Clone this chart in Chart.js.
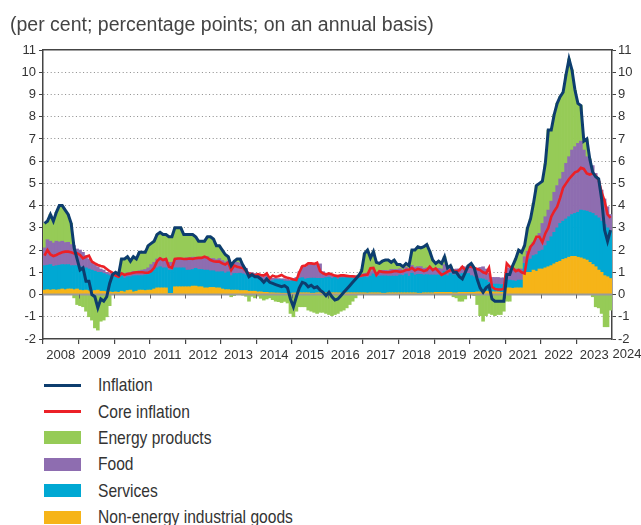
<!DOCTYPE html>
<html>
<head>
<meta charset="utf-8">
<script src="https://cdn.jsdelivr.net/npm/chart.js@4.4.0/dist/chart.umd.min.js"></script>
<style>
  html, body { margin: 0; padding: 0; background: #fff; }
  #wrap { position: relative; width: 641px; height: 525px; overflow: hidden; }
  #chart { position: absolute; left: 0; top: 0; }
  #legend { position: absolute; left: 44px; top: 372px; color: #333;
            font-family: "Liberation Sans", Arial, sans-serif; font-size: 19px; }
  .row { display: flex; align-items: center; height: 26.4px; white-space: nowrap; }
  .sw { width: 37px; margin-right: 17px; flex: none; }
  .row span { display: inline-block; transform: scaleX(0.82); transform-origin: left center; }
</style>
</head>
<body>
<div id="wrap">
  <canvas id="chart" width="641" height="370"></canvas>
  <div id="legend"></div>
</div>
<script>
const years = [2008, 2009, 2010, 2011, 2012, 2013, 2014, 2015, 2016, 2017, 2018, 2019, 2020, 2021, 2022, 2023];
const endLabel = "2024";

// headline inflation (line)
const inflation = [
  3.2, 3.3, 3.6, 3.3, 3.7, 4.0, 4.0, 3.8, 3.6, 3.2, 2.1, 1.6,
  1.1, 1.2, 0.6, 0.6, 0.0, -0.1, -0.6, -0.2, -0.3, -0.1, 0.5, 0.9,
  1.0, 0.9, 1.6, 1.6, 1.7, 1.5, 1.7, 1.6, 1.9, 1.9, 1.9, 2.2,
  2.3, 2.4, 2.7, 2.8, 2.7, 2.7, 2.6, 2.6, 3.0, 3.0, 3.0, 2.7,
  2.7, 2.7, 2.7, 2.6, 2.4, 2.4, 2.4, 2.6, 2.6, 2.5, 2.2, 2.2,
  2.0, 1.8, 1.7, 1.3, 1.5, 1.6, 1.6, 1.3, 1.1, 0.8, 0.9, 0.8,
  0.8, 0.7, 0.55, 0.7, 0.55, 0.5, 0.45, 0.4, 0.35, 0.4, 0.3, -0.2,
  -0.55, -0.1, 0.3, 0.55, 0.5, 0.35, 0.42, 0.3, 0.35, 0.2, 0.1, -0.05,
  0.1, -0.1, -0.25, -0.2, -0.05, 0.1, 0.25, 0.4, 0.55, 0.7, 0.85, 1.05,
  1.85, 2.0, 1.65, 1.93, 1.45, 1.4, 1.5, 1.55, 1.55, 1.45, 1.55, 1.35,
  1.35, 1.25, 1.4, 1.3, 2.0, 2.0, 2.15, 2.1, 2.15, 2.25, 1.95, 1.55,
  1.4, 1.5, 1.4, 1.7, 1.2, 1.3, 1.0, 1.0, 0.8, 0.7, 1.0, 1.3,
  1.4, 1.2, 0.7, 0.3, 0.1, 0.3, 0.4, -0.2, -0.3, -0.3, -0.3, -0.3,
  0.9, 0.9, 1.3, 1.6, 2.0, 1.9, 2.2, 3.0, 3.4, 4.1, 4.9, 5.0,
  5.1, 5.9, 7.4, 7.4, 8.1, 8.6, 8.9, 9.1, 9.9, 10.6, 10.1, 9.2,
  8.6, 8.5, 6.9, 7.0, 6.1, 5.5, 5.3, 5.2, 4.3, 2.9, 2.4, 2.9
];

// core inflation (line)
const coreInflation = [
  1.75, 2.0, 1.8, 1.73, 1.78, 1.85, 1.9, 1.93, 1.93, 1.9, 1.85, 1.85,
  1.78, 1.63, 1.7, 1.75, 1.48, 1.4, 1.33, 1.28, 1.25, 1.15, 1.05, 0.98,
  0.85, 0.8, 0.95, 0.88, 0.92, 0.95, 0.98, 1.0, 1.0, 1.0, 0.98, 0.98,
  1.05, 1.2, 1.5, 1.63, 1.55, 1.6, 1.25, 1.2, 1.6, 1.62, 1.62, 1.6,
  1.6, 1.62, 1.6, 1.63, 1.65, 1.65, 1.7, 1.65, 1.55, 1.5, 1.48, 1.48,
  1.4, 1.35, 1.45, 1.1, 1.3, 1.25, 1.22, 1.2, 1.05, 0.95, 0.92, 0.85,
  0.92, 0.88, 0.85, 0.95, 0.73, 0.85, 0.8, 0.82, 0.88, 0.8, 0.75, 0.72,
  0.68, 0.65, 1.0, 1.28, 1.3, 1.4, 1.4, 1.38, 1.43, 1.05, 0.95, 0.9,
  0.95, 0.9, 0.85, 0.83, 0.86, 0.86, 0.84, 0.82, 0.82, 0.8, 0.82, 0.86,
  0.88, 0.9, 1.18, 1.2, 0.88, 1.05, 1.02, 1.0, 1.0, 1.02, 1.05, 1.05,
  1.02, 1.05, 1.1, 1.12, 1.2, 1.08, 1.15, 1.12, 1.05, 1.1, 1.25, 1.1,
  1.18, 1.03, 0.88, 0.95, 1.03, 1.1, 1.08, 1.03, 1.1, 1.25, 1.1, 1.25,
  1.25, 1.2, 1.15, 1.1, 1.0, 0.95, 1.2, 0.35, 0.25, 0.23, 0.23, 0.25,
  1.4, 1.25, 1.2, 1.05, 1.1, 1.0, 0.95, 1.75, 2.15, 2.3, 2.6, 2.6,
  2.35, 2.75, 3.0, 3.5, 3.75, 3.95, 4.35, 4.8, 5.0, 5.2, 5.35, 5.5,
  5.55, 5.7, 5.65, 5.45, 5.4, 5.45, 5.35, 5.15, 4.6, 4.2, 3.6, 3.45
];

// contributions, percentage points
const energy = [
  1.1, 0.85, 1.2, 1.0, 1.3, 1.6, 1.6, 1.45, 1.25, 0.95, -0.15, -0.45,
  -0.5, -0.55, -0.75, -1.0, -1.15, -1.5, -1.6, -1.2, -1.15, -1.0, -0.5, 0.0,
  0.1, 0.03, 0.63, 0.68, 0.72, 0.53, 0.66, 0.57, 0.83, 0.8, 0.77, 1.0,
  0.95, 0.95, 1.1, 1.15, 1.1, 1.1, 1.15, 1.15, 1.4, 1.4, 1.4, 1.1,
  1.05, 1.05, 1.02, 0.92, 0.75, 0.77, 0.75, 0.9, 0.98, 0.88, 0.63, 0.58,
  0.47, 0.33, 0.18, -0.1, -0.05, 0.15, 0.19, -0.03, -0.08, -0.3, -0.08, -0.15,
  -0.07, -0.17, -0.25, -0.2, -0.15, -0.23, -0.3, -0.32, -0.36, -0.31, -0.38, -0.85,
  -1.0, -0.75, -0.55, -0.55, -0.55, -0.7, -0.75, -0.8, -0.85, -0.8, -0.8, -0.85,
  -0.9, -0.95, -0.9, -0.85, -0.75, -0.7, -0.6, -0.45, -0.3, -0.15, 0.05, 0.25,
  0.9, 1.03, 0.62, 0.8, 0.45, 0.37, 0.41, 0.46, 0.47, 0.32, 0.42, 0.22,
  0.19, 0.14, 0.17, 0.17, 0.69, 0.77, 0.89, 0.84, 0.97, 1.05, 0.77, 0.37,
  0.22, 0.32, 0.25, 0.35, 0.05, 0.05, -0.1, -0.15, -0.3, -0.3, -0.2, 0.02,
  0.1, -0.05, -0.45, -0.95, -1.2, -0.95, -0.85, -0.9, -0.95, -0.9, -0.9, -0.75,
  -0.3, -0.3, 0.12, 0.45, 0.85, 0.75, 0.5, 1.05, 1.25, 1.75, 2.4, 2.25,
  1.9, 2.4, 3.6, 3.2, 3.5, 3.7, 3.7, 3.6, 4.0, 4.4, 3.6, 2.55,
  1.8, 1.6, 0.4, 0.8, 0.05, -0.1, -0.55, -0.6, -0.85, -1.45, -1.45, -0.7
];

const food = [
  0.8, 1.15, 1.05, 1.05, 1.1, 1.05, 1.05, 1.0, 1.0, 0.95, 0.9, 0.75,
  0.75, 0.7, 0.55, 0.45, 0.35, 0.3, 0.25, 0.15, 0.15, 0.1, 0.1, 0.1,
  0.1, 0.12, 0.12, 0.18, 0.18, 0.17, 0.2, 0.18, 0.22, 0.25, 0.25, 0.3,
  0.3, 0.35, 0.4, 0.4, 0.4, 0.4, 0.35, 0.35, 0.4, 0.4, 0.4, 0.4,
  0.55, 0.55, 0.55, 0.5, 0.52, 0.5, 0.55, 0.6, 0.55, 0.55, 0.55, 0.6,
  0.5, 0.5, 0.5, 0.45, 0.5, 0.5, 0.45, 0.4, 0.3, 0.2, 0.18, 0.15,
  0.15, 0.15, 0.2, 0.15, 0.12, 0.1, 0.08, 0.05, 0.05, 0.1, 0.08, 0.05,
  0.05, 0.08, 0.3, 0.5, 0.55, 0.6, 0.65, 0.65, 0.62, 0.65, 0.3, 0.2,
  0.1, 0.12, 0.08, 0.12, 0.1, 0.1, 0.1, 0.1, 0.1, 0.1, 0.1, 0.12,
  0.15, 0.2, 0.2, 0.2, 0.2, 0.2, 0.25, 0.25, 0.25, 0.3, 0.3, 0.3,
  0.28, 0.25, 0.3, 0.3, 0.35, 0.35, 0.35, 0.35, 0.3, 0.3, 0.3, 0.3,
  0.3, 0.3, 0.3, 0.3, 0.3, 0.3, 0.25, 0.25, 0.25, 0.3, 0.3, 0.35,
  0.4, 0.4, 0.45, 0.5, 0.55, 0.5, 0.4, 0.3, 0.3, 0.3, 0.3, 0.3,
  0.55, 0.55, 0.55, 0.55, 0.5, 0.5, 0.3, 0.4, 0.55, 0.6, 0.7, 0.8,
  1.2, 1.3, 1.4, 1.6, 1.8, 1.9, 2.0, 2.2, 2.5, 2.7, 2.9, 3.0,
  3.1, 3.1, 2.72, 2.45, 2.35, 2.15, 1.9, 1.65, 1.4, 1.15, 0.95, 0.75
];

const services = [
  1.1, 1.1, 1.15, 1.05, 1.1, 1.1, 1.1, 1.12, 1.1, 1.05, 1.08, 1.05,
  1.05, 1.02, 1.0, 0.98, 0.95, 0.87, 0.8, 0.85, 0.8, 0.78, 0.73, 0.7,
  0.68, 0.65, 0.7, 0.62, 0.62, 0.6, 0.72, 0.7, 0.65, 0.65, 0.7, 0.7,
  0.85, 0.85, 0.9, 0.95, 0.9, 0.9, 1.05, 1.05, 0.85, 0.85, 0.85, 0.85,
  0.75, 0.75, 0.75, 0.8, 0.78, 0.78, 0.8, 0.8, 0.75, 0.75, 0.72, 0.72,
  0.78, 0.75, 0.8, 0.65, 0.75, 0.75, 0.78, 0.75, 0.7, 0.65, 0.65, 0.65,
  0.6, 0.6, 0.5, 0.65, 0.5, 0.55, 0.6, 0.6, 0.6, 0.55, 0.55, 0.55,
  0.6, 0.62, 0.65, 0.68, 0.62, 0.65, 0.68, 0.68, 0.65, 0.65, 0.65, 0.68,
  0.7, 0.65, 0.7, 0.62, 0.68, 0.68, 0.68, 0.68, 0.66, 0.66, 0.66, 0.68,
  0.72, 0.7, 0.75, 0.85, 0.72, 0.75, 0.78, 0.78, 0.75, 0.75, 0.75, 0.75,
  0.8, 0.78, 0.85, 0.75, 0.88, 0.8, 0.85, 0.85, 0.8, 0.82, 0.8, 0.8,
  0.78, 0.78, 0.75, 0.95, 0.75, 0.85, 0.8, 0.82, 0.8, 0.85, 0.85, 0.85,
  0.75, 0.7, 0.6, 0.6, 0.55, 0.5, 0.4, 0.35, 0.35, 0.35, 0.35, 0.35,
  0.35, 0.35, 0.35, 0.3, 0.35, 0.35, 0.45, 0.55, 0.6, 0.65, 0.75, 0.8,
  0.85, 1.0, 1.15, 1.3, 1.42, 1.55, 1.7, 1.72, 1.78, 1.82, 1.88, 1.93,
  2.02, 2.15, 2.18, 2.2, 2.25, 2.3, 2.3, 2.35, 2.3, 2.3, 2.2, 2.13
];

const industrialGoods = [
  0.2, 0.22, 0.2, 0.22, 0.2, 0.22, 0.25, 0.22, 0.25, 0.25, 0.22, 0.25,
  0.2, 0.18, 0.2, 0.17, 0.15, 0.18, 0.2, 0.15, 0.15, 0.12, 0.12, 0.1,
  0.12, 0.1, 0.15, 0.12, 0.18, 0.2, 0.12, 0.15, 0.2, 0.2, 0.18, 0.2,
  0.2, 0.25, 0.3, 0.3, 0.3, 0.3, 0.05, 0.05, 0.35, 0.35, 0.35, 0.35,
  0.35, 0.35, 0.38, 0.38, 0.35, 0.35, 0.3, 0.3, 0.32, 0.32, 0.3, 0.3,
  0.25, 0.22, 0.22, 0.2, 0.2, 0.2, 0.18, 0.18, 0.18, 0.15, 0.15, 0.15,
  0.12, 0.12, 0.1, 0.1, 0.08, 0.08, 0.07, 0.07, 0.06, 0.06, 0.05, 0.05,
  0.07, 0.07, 0.08, 0.08, 0.08, 0.08, 0.06, 0.06, 0.08, 0.08, 0.08, 0.08,
  0.08, 0.08, 0.08, 0.08, 0.07, 0.07, 0.08, 0.08, 0.08, 0.08, 0.08, 0.08,
  0.08, 0.07, 0.08, 0.08, 0.08, 0.08, 0.06, 0.06, 0.08, 0.08, 0.08, 0.08,
  0.08, 0.08, 0.08, 0.08, 0.08, 0.08, 0.06, 0.06, 0.08, 0.08, 0.08, 0.08,
  0.1, 0.1, 0.1, 0.1, 0.1, 0.1, 0.08, 0.08, 0.1, 0.1, 0.1, 0.1,
  0.1, 0.1, 0.12, 0.12, 0.15, 0.15, 0.15, 0.12, 0.12, 0.12, 0.1, 0.1,
  0.3, 0.3, 0.28, 0.3, 0.3, 0.3, 0.95, 1.0, 1.0, 1.1, 1.05, 1.15,
  1.15, 1.2, 1.25, 1.3, 1.38, 1.45, 1.5, 1.58, 1.62, 1.68, 1.72, 1.72,
  1.68, 1.65, 1.6, 1.55, 1.45, 1.35, 1.25, 1.1, 1.0, 0.85, 0.8, 0.72
];

const labels = [];
years.forEach(y => {
  for (let m = 1; m <= 12; m++) labels.push(y + "-" + String(m).padStart(2, "0"));
});

const FONT = '"Liberation Sans", Arial, sans-serif';
const AXIS = "#444";

// zero line drawn over the bars but under the two lines
const zeroLine = {
  id: "zeroLine",
  afterDatasetDraw(chart, args) {
    if (args.index !== 5) return;
    const { ctx, chartArea } = chart;
    const xs = chart.scales.x;
    const y0 = chart.scales.y.getPixelForValue(0);
    const step = (xs.right - xs.left) / labels.length;
    ctx.save();
    ctx.strokeStyle = "#9a9a9a";
    ctx.lineWidth = 2;
    ctx.beginPath();
    ctx.moveTo(chartArea.left, y0);
    ctx.lineTo(chartArea.right, y0);
    ctx.stroke();
    ctx.strokeStyle = "#666";
    ctx.lineWidth = 1;
    for (let i = 12; i < labels.length; i += 12) {
      const x = Math.round(xs.getPixelForValue(i) - step / 2) + 0.5;
      ctx.beginPath();
      ctx.moveTo(x, y0);
      ctx.lineTo(x, y0 + 4);
      ctx.stroke();
    }
    ctx.restore();
  },
  afterDraw(chart) {
    const { ctx } = chart;
    const xs = chart.scales.x;
    const yearW = (xs.right - xs.left) / years.length;
    ctx.save();
    ctx.font = "13px " + FONT;
    ctx.fillStyle = "#333";
    ctx.textAlign = "center";
    ctx.textBaseline = "top";
    ctx.fillText(endLabel, Math.min(xs.right + yearW / 2, chart.width - 14), xs.top + 9);
    ctx.restore();
  }
};

const chart = new Chart(document.getElementById("chart"), {
  type: "bar",
  data: {
    labels,
    datasets: [
      { type: "line", label: "Inflation", data: inflation, borderColor: "#0d3d6e", backgroundColor: "#0d3d6e",
        borderWidth: 3, pointRadius: 0, tension: 0, stack: "infl", order: 0 },
      { type: "line", label: "Core inflation", data: coreInflation, borderColor: "#ec2027", backgroundColor: "#ec2027",
        borderWidth: 2.6, pointRadius: 0, tension: 0, stack: "core", order: 1 },
      { label: "Energy products", data: energy, backgroundColor: "#96cb57", stack: "contrib", order: 5 },
      { label: "Food", data: food, backgroundColor: "#8e6db0", stack: "contrib", order: 4 },
      { label: "Services", data: services, backgroundColor: "#00a8d3", stack: "contrib", order: 3 },
      { label: "Non-energy industrial goods", data: industrialGoods, backgroundColor: "#f6b418", stack: "contrib", order: 2 }
    ]
  },
  options: {
    responsive: false,
    animation: false,
    devicePixelRatio: 1,
    layout: { padding: { left: 10, right: 0, top: 0, bottom: 0 } },
    datasets: { bar: { barPercentage: 1, categoryPercentage: 1, borderWidth: 0 } },
    plugins: {
      legend: { display: false },
      tooltip: { enabled: false },
      title: {
        display: true,
        text: "(per cent; percentage points; on an annual basis)",
        align: "start",
        color: "#444",
        font: { family: FONT, size: 19.5, weight: "normal", lineHeight: 1.2 },
        padding: { top: 14, bottom: 12.6 }
      }
    },
    scales: {
      x: {
        stacked: true,
        offset: true,
        ticks: {
          autoSkip: false, maxRotation: 0, minRotation: 0, padding: 4, labelOffset: -1.5,
          color: "#333", font: { family: FONT, size: 13 },
          callback: (v, i) => (i % 12 === 6 ? labels[i].slice(0, 4) : "")
        },
        grid: {
          offset: true, drawOnChartArea: false, tickLength: 5, lineWidth: 1.2,
          color: ctx => (ctx.index % 12 === 0 ? AXIS : "rgba(0,0,0,0)")
        },
        border: { color: AXIS, width: 1.5 },
        afterFit: s => { s.height = 31; }
      },
      xTop: {
        type: "category",
        position: "top",
        labels,
        ticks: { display: false },
        grid: { display: false, drawTicks: false },
        border: { color: AXIS, width: 1.5 },
        afterFit: s => { s.height = 0; }
      },
      y: {
        position: "left",
        stacked: true,
        min: -2, max: 11,
        ticks: { stepSize: 1, padding: 3, color: "#333", font: { family: FONT, size: 13 } },
        grid: {
          lineWidth: 1, tickLength: 4, tickColor: AXIS,
          color: ctx => {
            const v = ctx.tick.value;
            return (v === -1 || (v >= 1 && v <= 10)) ? "#8a8a8a" : "rgba(0,0,0,0)";
          }
        },
        border: { color: AXIS, width: 1.5, dash: [1, 2.6] },
        afterFit: s => { s.width = 33; }
      },
      yRight: {
        position: "right",
        min: -2, max: 11,
        ticks: { stepSize: 1, padding: 2, color: "#333", font: { family: FONT, size: 13 } },
        grid: { drawOnChartArea: false, tickLength: 4, color: AXIS },
        border: { color: AXIS, width: 1.5 },
        afterFit: s => { s.width = 29; }
      }
    }
  },
  plugins: [zeroLine]
});

// legend, built from the datasets
const legend = document.getElementById("legend");
chart.data.datasets.forEach(ds => {
  const row = document.createElement("div");
  row.className = "row";
  const sw = document.createElement("div");
  sw.className = "sw";
  sw.style.background = ds.type === "line" ? ds.borderColor : ds.backgroundColor;
  sw.style.height = ds.type === "line" ? "3px" : "13px";
  const txt = document.createElement("span");
  txt.textContent = ds.label;
  row.appendChild(sw);
  row.appendChild(txt);
  legend.appendChild(row);
});
</script>
</body>
</html>
